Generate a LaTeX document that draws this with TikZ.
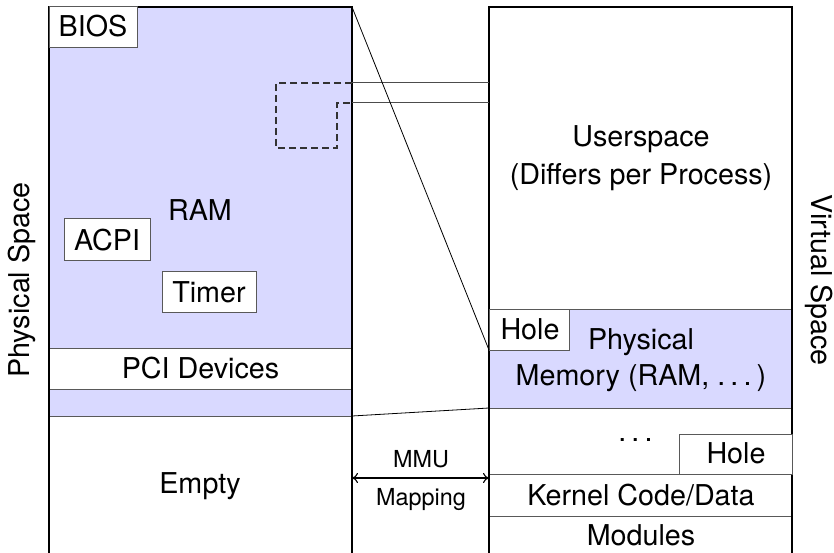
\documentclass[tikz,border=0pt]{standalone}
\usepackage{fontspec}
\setmainfont{TeX Gyre Heros}
\usetikzlibrary{fit,arrows.meta}
\definecolor{ramblue}{RGB}{217,217,255}
\newcommand\mainsz{\fontsize{28.7}{34.4}\selectfont}
\newcommand\smallsz{\fontsize{23.4}{28}\selectfont}
\newcommand\spdots{.\kern.18em.\kern.18em.\kern.18em}
\begin{document}
\begin{tikzpicture}[x=1pt,y=-1pt,
  cell/.style={draw=black!65, line width=1pt, inner sep=0pt, outer sep=0pt, fill=white},
  bluecell/.style={cell, fill=ramblue},
  outerbox/.style={draw=black, line width=1.6pt, inner sep=0pt, outer sep=0pt},
  lbl/.style={font=\mainsz, inner sep=0pt, anchor=base},
  slbl/.style={font=\smallsz, inner sep=0pt, anchor=base},
  thinline/.style={draw=black, line width=0.8pt},
  hline/.style={draw=black!70, line width=1pt},
  dashline/.style={draw=black!80, line width=1.2pt, dash pattern=on 7pt off 4pt}]
\useasboundingbox (0,0) rectangle (834,553);

% ---------- physical space (left) ----------
\node[bluecell, fit={(49,7) (352,348)}] (ram) {};
\node[cell, fit={(49,348) (352,389)}] (pci) {};
\node[bluecell, fit={(49,389) (352,416)}] (strip) {};
\node[cell, fit={(49,416) (352,562)}] (empty) {};
\node[outerbox, fit={(49,7) (352,562)}] (pbox) {};

\node[cell, fit={(49,7) (137,48)}] (bios) {};
\node[cell, fit={(64,219) (150,260)}] (acpi) {};
\node[cell, fit={(162,271) (256,312)}] (timer) {};

\node[lbl] (tbios) at (93,37) {BIOS};
\node[lbl] (tram) at (200,221) {RAM};
\node[lbl] (tacpi) at (107,250) {ACPI};
\node[lbl] (ttimer) at (209,302) {Timer};
\node[lbl] (tpci) at (200.5,378) {PCI Devices};
\node[lbl] (tempty) at (200,493) {Empty};

% dashed mapped region
\coordinate (d1) at (352,83);
\coordinate (d2) at (352,103);
\draw[dashline] (d1) -- (276,83) -- (276,148) -- (337,148) -- (337,103) -- (d2);

% ---------- virtual space (right) ----------
\node[cell, fit={(489,7) (792,309)}] (user) {};
\node[bluecell, fit={(489,309) (792,408)}] (phys) {};
\node[cell, fit={(489,408) (792,474)}] (gap) {};
\node[cell, fit={(489,474) (792,516)}] (kernel) {};
\node[cell, fit={(489,516) (792,562)}] (modules) {};
\node[outerbox, fit={(489,7) (792,562)}] (vbox) {};

\node[cell, fit={(489,309) (569,350)}] (hole1) {};
\node[cell, fit={(679,434) (792,474)}] (hole2) {};

\node[lbl] (tuser1) at (641,147) {Userspace};
\node[lbl] (tuser2) at (641,185) {(Differs per Process)};
\node[lbl] (thole1) at (530,339) {Hole};
\node[lbl] (tphys1) at (641,349) {Physical};
\node[lbl] (tphys2) at (641,385) {Memory (RAM, \spdots)};
\node[lbl] (tdots) at (638,441) {\spdots};
\node[lbl] (thole2) at (736,463) {Hole};
\node[lbl] (tkernel) at (641,505) {Kernel Code/Data};
\node[lbl] (tmod) at (641,545) {Modules};

% ---------- mapping lines ----------
\draw[hline] (d1) -- (user.west |- d1);
\draw[hline] (d2) -- (user.west |- d2);
\draw[thinline] (ram.north east) -- (hole1.south west);
\draw[thinline] (strip.south east) -- (phys.south west);

% MMU arrow
\coordinate (ma) at (352,478);
\coordinate (mb) at (489,478);
\draw[line width=1.1pt, {To[length=6pt,width=10pt]}-{To[length=6pt,width=10pt]}] (ma) -- (mb);
\node[slbl] (tmmu) at (421,467) {MMU};
\node[slbl] (tmap) at (421,505) {Mapping};

% side labels
\node[font=\mainsz, inner sep=0pt, rotate=90] (tphysspace) at (22,280) {Physical Space};
\node[font=\mainsz, inner sep=0pt, rotate=-90] (tvirtspace) at (819,280) {Virtual Space};
\end{tikzpicture}
\end{document}
